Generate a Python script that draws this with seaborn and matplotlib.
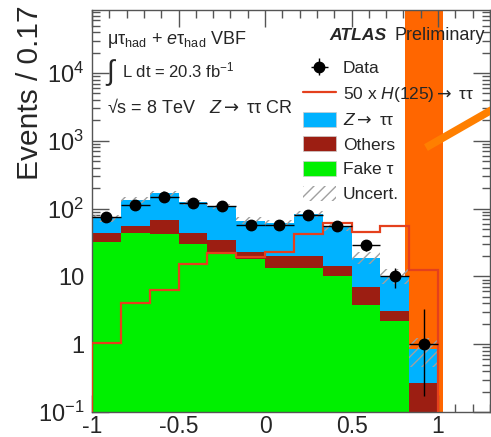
import numpy as np
import pandas as pd
import matplotlib
matplotlib.use("Agg")
import matplotlib.pyplot as plt
from matplotlib.patches import Patch
from matplotlib.lines import Line2D
from matplotlib.ticker import MultipleLocator, LogLocator, NullFormatter
import seaborn as sns

# ---- binning (Events / 0.17) ----
bin_edges = [-1.0, -0.8333, -0.6667, -0.5, -0.3333, -0.1667, 0.0,
             0.1667, 0.3333, 0.5, 0.6667, 0.8333, 1.0]

# ---- background components (events per bin) ----
fake_tau = [31.9, 43.0, 42.5, 30.0, 21.9, 18.1, 13.4, 13.3, 10.3, 3.83, 2.17, 0.0]
others = [11.4, 13.0, 24.5, 13.0, 12.7, 5.1, 6.9, 7.0, 4.1, 3.07, 0.88, 0.27]
ztautau = [29.7, 79.0, 102.0, 81.0, 73.4, 43.5, 40.7, 63.7, 39.6, 11.9, 7.25, 0.58]
# relative uncertainty on the total background
bkg_rel_unc = [0.12, 0.10, 0.09, 0.09, 0.10, 0.12, 0.12, 0.11, 0.13, 0.20, 0.24, 0.45]

# ---- signal (scaled x50) and observed data ----
signal_x50 = [1.04, 4.1, 6.3, 15.3, 21.9, 19.6, 22.7, 42.5, 61.0, 44.8, 56.0, 12.5]
data_obs = [75, 112, 147, 122, 110, 58, 58, 81, 56, 29, 10, 1]

# ---- overlay marks ----
band_range = [0.81, 1.026]
stroke_x = [0.93, 1.40]
stroke_y = [795.0, 3870.0]

# ---- tick labels ----
xtick_vals = [-1, -0.5, 0, 0.5, 1]
xtick_labels = ["-1", "-0.5", "0", "0.5", "1"]
ytick_vals = [0.1, 1, 10, 100, 1000, 10000]
ytick_labels = [r"$10^{-1}$", "1", "10", r"$10^{2}$", r"$10^{3}$", r"$10^{4}$"]

ARROW = r"$\mathsf{\rightarrow}$"
process_names = ["$Z$" + ARROW + " ττ", "Others", "Fake τ"]
process_colors = dict(zip(process_names, ["#00b2ff", "#9c1e12", "#00f000"]))

sns.set_style("ticks")
plt.rcParams["font.family"] = ["Liberation Sans", "DejaVu Sans"]
plt.rcParams["mathtext.fontset"] = "custom"
plt.rcParams["mathtext.rm"] = "Liberation Sans"
plt.rcParams["mathtext.it"] = "Liberation Sans:italic"
plt.rcParams["mathtext.bf"] = "Liberation Sans:bold"
plt.rcParams["mathtext.sf"] = "DejaVu Sans"
plt.rcParams["hatch.linewidth"] = 1.0

edges = np.array(bin_edges)
centers = 0.5 * (edges[:-1] + edges[1:])
widths = np.diff(edges)

rows = []
for name, vals in zip(process_names, [ztautau, others, fake_tau]):
    for c, v in zip(centers, vals):
        rows.append({"x": float(c), "w": float(v), "process": name})
df = pd.DataFrame(rows)

fig = plt.figure(figsize=(4.91, 4.37), dpi=100)
ax = fig.add_axes([92 / 491, 25 / 437, 398 / 491, 402 / 437])

ax.axvspan(band_range[0], band_range[1], color="#ff6600", lw=0, zorder=0.5)

sns.histplot(data=df, x="x", weights="w", hue="process", hue_order=process_names,
             multiple="stack", bins=bin_edges, element="step", linewidth=0,
             alpha=1, palette=process_colors, legend=False, ax=ax, zorder=1)

total = np.array(ztautau) + np.array(others) + np.array(fake_tau)
unc = np.array(bkg_rel_unc) * total
ax.bar(centers, 2 * unc, bottom=total - unc, width=widths, fill=False,
       hatch="///", edgecolor="#a0a0a0", linewidth=0, zorder=2)

ax.stairs(signal_x50, edges, baseline=1e-3, fill=False, color="#e4401d",
          linewidth=1.6, zorder=3)

obs = np.array(data_obs, dtype=float)
err_lo = np.where(obs > 1, np.sqrt(obs), 0.83)
err_hi = np.where(obs > 1, np.sqrt(obs), 2.3)
eb = ax.errorbar(centers, obs, xerr=widths / 2, yerr=[err_lo, err_hi], fmt="o",
                 color="black", markersize=7.5, elinewidth=1.0, capsize=0,
                 zorder=5)

ax.plot(stroke_x, stroke_y, color="#ff7f00", lw=5.5, solid_capstyle="butt",
        zorder=6)

ax.set_yscale("log")
ax.set_xlim(-1, 1.3)
ax.set_ylim(0.1, 8.5e4)
ax.set_xlabel("")
ax.set_ylabel("Events / 0.17", fontsize=21.5, loc="top")
ax.yaxis.set_label_coords(-0.12, 1.012)

ax.set_xticks(xtick_vals)
ax.set_xticklabels(xtick_labels)
ax.xaxis.set_minor_locator(MultipleLocator(0.1))
ax.set_yticks(ytick_vals)
ax.set_yticklabels(ytick_labels)
ax.yaxis.set_minor_locator(LogLocator(base=10, subs=np.arange(2, 10)))
ax.yaxis.set_minor_formatter(NullFormatter())
ax.tick_params(which="both", direction="in", top=True, right=True,
               color="#555555", width=1.0)
ax.tick_params(which="major", length=12)
ax.tick_params(axis="y", which="major", pad=5.5, labelsize=17)
ax.tick_params(axis="x", which="major", pad=2.5, labelsize=16.5)
ax.tick_params(which="minor", length=6)
for s in ax.spines.values():
    s.set_color("#555555")
    s.set_linewidth(1.0)

# ---- annotations ----
fs_lbl = 13
fig.text(107 / 491, 1 - 44 / 437, r"μτ$_{\rm had}$ + $e$τ$_{\rm had}$ VBF",
         fontsize=fs_lbl, ha="left", va="baseline")
fig.text(106 / 491, 1 - 80 / 437, "∫", fontsize=20, ha="left", va="baseline")
fig.text(122 / 491, 1 - 77 / 437, r"L dt = 20.3 fb$^{-1}$",
         fontsize=12, ha="left", va="baseline")
fig.text(107 / 491, 1 - 113 / 437, "√s = 8 TeV   $Z$" + ARROW + " ττ CR",
         fontsize=fs_lbl, ha="left", va="baseline")
fig.text(329 / 491, 1 - 40 / 437, "ATLAS", fontsize=12.6, fontweight="bold",
         fontstyle="italic", ha="left", va="baseline")
fig.text(395 / 491, 1 - 40 / 437, "Preliminary", fontsize=13,
         ha="left", va="baseline")

handles = [
    eb,
    Line2D([], [], color="#e4401d", lw=1.6),
    Patch(facecolor=process_colors[process_names[0]], edgecolor="#cccccc", lw=0.5),
    Patch(facecolor=process_colors["Others"], edgecolor="#cccccc", lw=0.5),
    Patch(facecolor=process_colors["Fake τ"], edgecolor="#cccccc", lw=0.5),
    Patch(facecolor="white", edgecolor="#a0a0a0", hatch="///", lw=0),
]
labels = ["Data", "50 x $H$(125)" + ARROW + " ττ", process_names[0],
          "Others", "Fake τ", "Uncert."]
ax.legend(handles, labels, loc="upper left",
          bbox_to_anchor=(303 / 491, 1 - 60 / 437),
          bbox_transform=fig.transFigure, frameon=False, fontsize=12.5,
          handlelength=1.9, handleheight=0.95, handletextpad=0.4,
          labelspacing=0.47, borderpad=0, borderaxespad=0)

fig.savefig("out.png", dpi=100)
